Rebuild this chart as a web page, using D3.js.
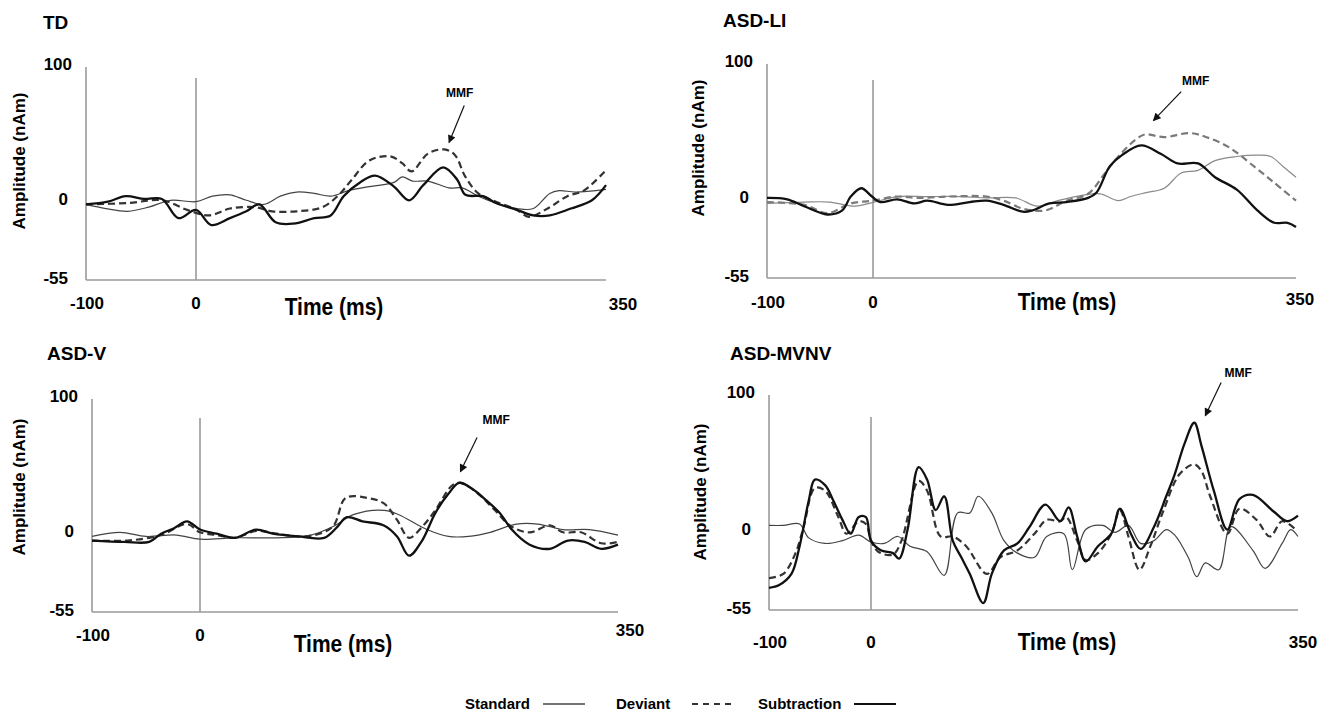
<!DOCTYPE html>
<html>
<head>
<meta charset="utf-8">
<script src="https://cdn.jsdelivr.net/npm/d3@7"></script>
<style>
    body { margin: 0; background: #fff; }
    svg { display: block; font-family: Arial, "Liberation Sans", sans-serif; }
</style>
</head>
<body>
<div id="frame"></div>
<script>
// VARIABLES
const width = 1328;
const height = 714;

// axis values
const timeTicks = [-100, 0, 350];
const ampTicks = [100, 0, -55];
const groups = ["TD", "ASD-LI", "ASD-V", "ASD-MVNV"];
const seriesNames = ["Standard", "Deviant", "Subtraction"];

// data: [time (ms), amplitude (nAm)]
const tdStandard = [[-100,0],[-82,-3],[-62,-5],[-43,-2],[-23,3],[0,2],[14,6],[29,7],[43,3],[58,0],[72,6],[86,9],[101,8],[115,6],[130,10],[148,13],[169,16],[176,20],[185,17],[198,17],[216,12],[227,12],[241,6],[256,1],[274,-3],[288,-3],[302,8],[310,10],[324,9],[350,11]];
const tdDeviant = [[-100,0],[-62,1],[-31,3],[-8,-4],[11,-8],[29,-3],[50,-2],[65,-5],[86,-5],[108,-2],[122,7],[133,18],[148,32],[166,35],[176,30],[184,24],[198,37],[212,40],[221,36],[230,20],[241,8],[256,2],[274,-4],[284,-9],[302,-2],[317,6],[331,10],[350,25]];
const tdSubtraction = [[-100,0],[-80,2],[-64,6],[-47,4],[-31,4],[-16,-10],[0,-4],[13,-15],[29,-10],[43,-5],[54,0],[68,-13],[83,-14],[101,-10],[115,-8],[126,6],[140,16],[153,21],[169,13],[182,3],[194,14],[211,27],[223,18],[230,7],[245,6],[256,1],[274,-4],[288,-8],[302,-8],[320,-3],[338,3],[350,14]];

const liStandard = [[-100,-1],[-65,0],[-41,0],[-17,-3],[1,0],[20,4],[45,4],[73,4],[94,3],[118,3],[136,-3],[153,1],[174,5],[188,6],[203,1],[213,4],[227,7],[241,10],[255,21],[269,23],[283,30],[301,33],[318,34],[329,33],[339,26],[350,18]];
const liDeviant = [[-100,0],[-65,-2],[-43,-8],[-21,-1],[-1,1],[20,4],[38,3],[62,4],[94,4],[108,1],[125,-5],[143,-6],[160,1],[178,6],[192,21],[203,33],[217,45],[225,49],[241,47],[262,50],[276,47],[294,40],[315,26],[332,14],[350,1]];
const liSubtraction = [[-100,3],[-81,2],[-65,-3],[-43,-9],[-29,-6],[-21,4],[-11,10],[-1,4],[6,0],[20,2],[34,-1],[45,1],[62,-2],[80,0],[94,1],[108,-2],[124,-7],[132,-6],[146,-1],[160,0],[178,3],[185,7],[196,26],[206,34],[222,41],[238,35],[252,28],[269,28],[283,18],[301,9],[318,-6],[332,-15],[343,-15],[350,-18]];

const vStandard = [[-100,0],[-74,3],[-50,0],[-22,1],[0,-2],[29,-1],[64,-1],[93,1],[111,7],[129,16],[154,19],[166,16],[190,5],[208,0],[225,0],[243,3],[265,9],[283,9],[304,5],[326,5],[350,1]];
const vDeviant = [[-100,-3],[-67,-3],[-36,1],[-12,9],[0,3],[14,1],[29,-1],[47,4],[64,2],[89,0],[111,7],[122,28],[140,28],[154,24],[165,12],[175,-1],[186,7],[197,19],[211,37],[218,39],[233,31],[247,19],[261,7],[276,3],[293,8],[304,3],[319,3],[336,-5],[350,-4]];
const vSubtraction = [[-100,-3],[-70,-4],[-47,-4],[-36,2],[-24,6],[-12,11],[0,5],[14,2],[29,-1],[47,5],[61,2],[82,0],[104,-1],[115,7],[123,14],[136,11],[154,8],[165,0],[175,-14],[186,-3],[197,17],[208,31],[217,39],[229,34],[240,26],[251,17],[261,5],[276,-6],[293,-9],[308,-3],[322,-4],[336,-9],[350,-6]];

const mvStandard = [[-100,6],[-86,6],[-70,7],[-61,-3],[-45,-7],[-28,-5],[-12,-1],[0,-6],[11,-7],[22,-2],[32,-9],[46,-13],[60,-30],[71,15],[81,15],[88,27],[99,15],[109,-5],[120,-14],[134,-17],[144,-2],[158,0],[165,-26],[176,3],[190,6],[200,1],[211,6],[221,-7],[232,-5],[242,3],[249,-1],[260,-17],[267,-31],[274,-21],[285,-26],[295,5],[313,-12],[323,-25],[337,-7],[344,3],[350,-2]];
const mvDeviant = [[-100,-32],[-86,-29],[-74,-14],[-66,5],[-55,33],[-45,31],[-32,12],[-24,0],[-12,9],[-5,7],[0,-5],[6,-13],[18,-15],[25,-5],[39,38],[46,31],[57,-2],[67,-2],[78,-9],[95,-29],[106,-17],[120,-12],[134,0],[144,10],[155,9],[160,12],[169,-5],[176,-19],[186,-14],[197,0],[204,17],[211,-2],[220,-26],[229,-9],[239,15],[253,43],[265,50],[271,45],[278,27],[292,0],[302,18],[316,10],[327,-2],[337,9],[348,3]];
const mvSubtraction = [[-100,-39],[-90,-37],[-78,-29],[-70,-9],[-61,24],[-55,39],[-45,35],[-37,24],[-28,10],[-20,0],[-12,12],[-5,12],[0,-5],[8,-12],[18,-14],[23,-18],[30,3],[39,48],[46,39],[53,17],[60,27],[67,-5],[74,-17],[81,-29],[92,-50],[99,-29],[109,-12],[120,-7],[130,5],[143,21],[155,9],[162,19],[169,-2],[176,-20],[186,-9],[197,0],[204,18],[213,0],[221,-11],[232,5],[242,27],[249,43],[257,65],[265,80],[271,63],[281,31],[292,3],[302,25],[313,28],[330,16],[341,9],[350,13]];

// MMF arrows: [time, amplitude] of text, arrow tail, arrow tip
const tdMmf = [[225,81],[229,72],[216,45]];
const liMmf = [[267,88],[255,80],[232,59]];
const vMmf = [[248,85],[232,72],[218,47]];
const mvMmf = [[301,116],[287,109],[274,85]];

// panel layout (pixels)
const layouts = [
    {x0: 86, xz: 196, x1: 606, yTop: 67, yBot: 280, zTop: 78, titleX: 43, titleY: 29, timeX: 334, timeY: 314, ampX: 19, ampY: 161, tickY: 309, endX: 623, endY: 310},
    {x0: 767, xz: 873, x1: 1296, yTop: 64, yBot: 278, zTop: 80, titleX: 723, titleY: 27, timeX: 1067, timeY: 309, ampX: 698, ampY: 148, tickY: 308, endX: 1300, endY: 305},
    {x0: 92, xz: 200, x1: 618, yTop: 399, yBot: 612, zTop: 418, titleX: 47, titleY: 360, timeX: 343, timeY: 651, ampX: 19, ampY: 487, tickY: 641, endX: 630, endY: 636},
    {x0: 769, xz: 871, x1: 1298, yTop: 395, yBot: 610, zTop: 417, titleX: 730, titleY: 360, timeX: 1067, timeY: 649, ampX: 700, ampY: 492, tickY: 648, endX: 1303, endY: 648}
];

const panels = [
    {title: groups[0], series: [tdStandard, tdDeviant, tdSubtraction], mmf: tdMmf, light: false},
    {title: groups[1], series: [liStandard, liDeviant, liSubtraction], mmf: liMmf, light: true},
    {title: groups[2], series: [vStandard, vDeviant, vSubtraction], mmf: vMmf, light: false},
    {title: groups[3], series: [mvStandard, mvDeviant, mvSubtraction], mmf: mvMmf, light: false}
];

// line styles
function lineStyle(i, light) {
    return i == 0 ? {stroke: light ? "#8a8a8a" : "#444", width: 1.2, dash: null} // standard
        : i == 1 ? {stroke: light ? "#7a7a7a" : "#333", width: 2.2, dash: "7,4"} // deviant
        : {stroke: "#111", width: 2.3, dash: null}; // subtraction
}

const axisColor = "#9a9a9a";

// define svg
const svg = d3.select("#frame")
    .append("svg")
        .attr("width", width)
        .attr("height", height)
        .attr("viewBox", [0, 0, width, height]);

svg.append("defs")
    .append("marker")
        .attr("id", "arrow")
        .attr("viewBox", "0 0 10 10")
        .attr("refX", 9)
        .attr("refY", 5)
        .attr("markerWidth", 9)
        .attr("markerHeight", 8)
        .attr("markerUnits", "userSpaceOnUse")
        .attr("orient", "auto")
    .append("path")
        .attr("d", "M0,0 L10,5 L0,10 Z")
        .attr("fill", "#111");

panels.forEach((p, k) => drawPanel(p, layouts[k]));
drawLegend();

// FUNCTIONS
function drawPanel(p, L) {
    const g = svg.append("g").attr("class", "panel");

    const x = d3.scaleLinear()
        .domain([timeTicks[0], timeTicks[1], timeTicks[2]])
        .range([L.x0, L.xz, L.x1]);
    const y = d3.scaleLinear()
        .domain([ampTicks[2], ampTicks[0]])
        .range([L.yBot, L.yTop]);

    // title
    g.append("text")
        .attr("x", L.titleX)
        .attr("y", L.titleY)
        .attr("font-size", 19)
        .attr("font-weight", "bold")
        .text(p.title);

    // axes
    g.append("line")
        .attr("x1", L.x0).attr("x2", L.x0)
        .attr("y1", L.yTop).attr("y2", L.yBot)
        .attr("stroke", axisColor).attr("stroke-width", 1.6);
    g.append("line")
        .attr("x1", L.x0).attr("x2", L.x1)
        .attr("y1", L.yBot).attr("y2", L.yBot)
        .attr("stroke", axisColor).attr("stroke-width", 1.6);
    g.append("line")
        .attr("x1", x(0)).attr("x2", x(0))
        .attr("y1", L.zTop).attr("y2", L.yBot)
        .attr("stroke", axisColor).attr("stroke-width", 1.6);

    // y tick labels
    g.selectAll(".ylab")
        .data(ampTicks)
        .enter()
        .append("text")
            .attr("class", "ylab")
            .attr("x", d => d == 100 ? L.x0 - 14 : L.x0 - 18)
            .attr("y", d => d == 100 ? L.yTop + 3 : d == 0 ? y(0) + 1 : L.yBot + 4)
            .attr("text-anchor", "end")
            .attr("font-size", 17)
            .attr("font-weight", "bold")
            .text(d => d);

    // x tick labels
    g.selectAll(".xlab")
        .data(timeTicks)
        .enter()
        .append("text")
            .attr("class", "xlab")
            .attr("x", d => d == 350 ? L.endX : x(d) + (d < 0 ? 1 : 0))
            .attr("y", d => d == 350 ? L.endY : L.tickY)
            .attr("text-anchor", "middle")
            .attr("font-size", 17)
            .attr("font-weight", "bold")
            .text(d => d);

    // axis titles (the figure's text is a bit stretched vertically)
    g.append("text")
        .attr("transform", "translate(" + L.timeX + "," + (L.timeY + 1) + ") scale(1,1.15)")
        .attr("text-anchor", "middle")
        .attr("font-size", 21)
        .attr("font-weight", "bold")
        .text("Time (ms)");
    g.append("text")
        .attr("transform", "translate(" + (L.ampX + 6) + "," + L.ampY + ") rotate(-90)")
        .attr("text-anchor", "middle")
        .attr("font-size", 17)
        .attr("font-weight", "bold")
        .text("Amplitude (nAm)");

    // waveforms
    const line = d3.line()
        .x(d => x(d[0]))
        .y(d => y(d[1]))
        .curve(d3.curveCatmullRom.alpha(0.5));

    g.selectAll(".wave")
        .data(p.series)
        .enter()
        .append("path")
            .attr("class", "wave")
            .attr("d", d => line(d))
            .attr("fill", "none")
            .attr("stroke", (d, i) => lineStyle(i, p.light).stroke)
            .attr("stroke-width", (d, i) => lineStyle(i, p.light).width)
            .attr("stroke-dasharray", (d, i) => lineStyle(i, p.light).dash)
            .attr("stroke-linejoin", "round");

    // MMF annotation
    const m = p.mmf;
    g.append("text")
        .attr("x", x(m[0][0]))
        .attr("y", y(m[0][1]) + 4)
        .attr("text-anchor", "middle")
        .attr("font-size", 12)
        .attr("font-weight", "bold")
        .text("MMF");
    g.append("line")
        .attr("x1", x(m[1][0])).attr("y1", y(m[1][1]))
        .attr("x2", x(m[2][0])).attr("y2", y(m[2][1]))
        .attr("stroke", "#111")
        .attr("stroke-width", 1.2)
        .attr("marker-end", "url(#arrow)");
}

function drawLegend() {
    const items = [
        {name: seriesNames[0], tx: 465, lx: 543},
        {name: seriesNames[1], tx: 616, lx: 692},
        {name: seriesNames[2], tx: 758, lx: 854}
    ];
    const lg = svg.append("g").attr("class", "legend");
    lg.selectAll("text")
        .data(items)
        .enter()
        .append("text")
            .attr("x", d => d.tx)
            .attr("y", 709)
            .attr("font-size", 15)
            .attr("font-weight", "bold")
            .text(d => d.name);
    lg.selectAll("line")
        .data(items)
        .enter()
        .append("line")
            .attr("x1", d => d.lx)
            .attr("x2", d => d.lx + 42)
            .attr("y1", 704)
            .attr("y2", 704)
            .attr("stroke", (d, i) => lineStyle(i, false).stroke)
            .attr("stroke-width", (d, i) => i == 0 ? 1.3 : i == 1 ? 1.8 : 2.2)
            .attr("stroke-dasharray", (d, i) => i == 1 ? "6,5" : null);
}
</script>
</body>
</html>
